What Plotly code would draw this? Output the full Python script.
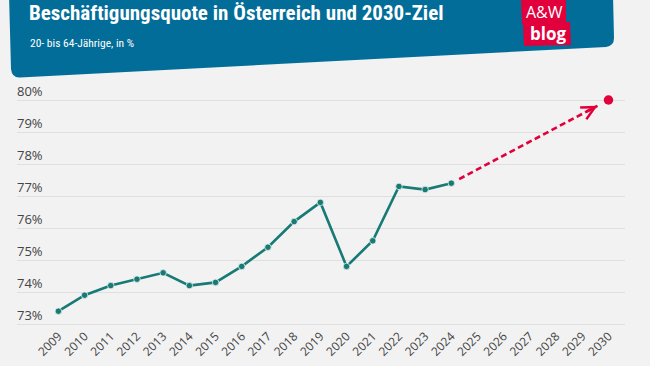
import plotly.graph_objects as go

# ---- data ----
years = [2009, 2010, 2011, 2012, 2013, 2014, 2015, 2016, 2017, 2018,
         2019, 2020, 2021, 2022, 2023, 2024]
quote = [73.4, 73.9, 74.2, 74.4, 74.6, 74.2, 74.3, 74.8, 75.4, 76.2,
         76.8, 74.8, 75.6, 77.3, 77.2, 77.4]
target_year = 2030
target_value = 80.0
axis_years = list(range(2009, 2031))
y_ticks = [73, 74, 75, 76, 77, 78, 79, 80]

title = "Beschäftigungsquote in Österreich und 2030-Ziel"
subtitle = "20- bis 64-Jährige, in %"

# ---- styling / layout geometry ----
W, H = 650, 366
ML, MR, MT, MB = 17, 25, 78, 36
PW, PH = W - ML - MR, H - MT - MB
BG = "#f2f2f2"
TEAL = "#177a74"
RED = "#e2003c"
BLUE = "#036d99"
PXU = 32.0  # pixels per percentage point
Y_BOTTOM = 73 - (H - MB - 324) / PXU
Y_TOP = Y_BOTTOM + PH / PXU


def px(x):
    return (x - ML) / PW


def py(y):
    return (H - MB - y) / PH


fig = go.Figure()

fig.add_trace(go.Scatter(
    x=years, y=quote, mode="lines+markers",
    line=dict(color=TEAL, width=2.6),
    marker=dict(color=TEAL, size=6.5, line=dict(color="#e8f0ef", width=0.8)),
    hoverinfo="x+y", showlegend=False,
))

# dashed projection from last value to target
x0, y0 = years[-1], quote[-1]
f0, f1 = 0.05, 0.93
sx, sy = x0 + f0 * (target_year - x0), y0 + f0 * (target_value - y0)
ex, ey = x0 + f1 * (target_year - x0), y0 + f1 * (target_value - y0)
fig.add_trace(go.Scatter(
    x=[sx, ex], y=[sy, ey], mode="lines",
    line=dict(color=RED, width=2.6, dash="6px,3.5px"),
    hoverinfo="skip", showlegend=False,
))
fig.add_annotation(
    x=ex, y=ey, xref="x", yref="y",
    ax=x0 + 0.85 * (target_year - x0), ay=y0 + 0.85 * (target_value - y0),
    axref="x", ayref="y", text="", showarrow=True,
    arrowhead=5, arrowsize=1.0, arrowwidth=2.6, arrowcolor=RED, standoff=0,
)

fig.add_trace(go.Scatter(
    x=[target_year], y=[target_value], mode="markers",
    marker=dict(color=RED, size=9.5),
    hoverinfo="x+y", showlegend=False,
))

# ---- header panel ----
panel = (f"M {px(9)},{py(-6)} L {px(11)},{py(69)} "
         f"Q {px(12)},{py(78)} {px(20)},{py(77.5)} "
         f"L {px(606)},{py(47)} Q {px(614)},{py(46)} {px(614)},{py(38)} "
         f"L {px(613)},{py(-6)} Z")
fig.add_shape(type="path", path=panel, xref="paper", yref="paper",
              fillcolor=BLUE, line=dict(width=0), layer="above")

# logo boxes
fig.add_shape(type="path", xref="paper", yref="paper", layer="above",
              path=(f"M {px(521)},{py(-2)} L {px(566)},{py(-3)} L {px(566)},{py(23)} "
                    f"L {px(522)},{py(24)} Z"),
              fillcolor=RED, line=dict(width=0))
fig.add_shape(type="path", xref="paper", yref="paper", layer="above",
              path=(f"M {px(523)},{py(23)} L {px(570)},{py(22)} L {px(571)},{py(45)} "
                    f"L {px(524)},{py(46)} Z"),
              fillcolor=RED, line=dict(width=0))
fig.add_annotation(x=px(544), y=py(12), xref="paper", yref="paper",
                   text="A&amp;W", showarrow=False, xanchor="center", yanchor="middle",
                   font=dict(family="Open Sans", size=16, color="white"))
fig.add_annotation(x=px(547.5), y=py(34), xref="paper", yref="paper",
                   text="<b>blog</b>", showarrow=False, xanchor="center", yanchor="middle",
                   font=dict(family="Open Sans", size=17, color="white"))

fig.add_annotation(x=px(27), y=py(13), xref="paper", yref="paper",
                   text="<b>" + title + "</b>", showarrow=False,
                   xanchor="left", yanchor="middle",
                   font=dict(family="Liberation Sans Narrow, Roboto Condensed, DejaVu Sans Condensed, Liberation Sans",
                             size=21, color="white"))
fig.add_annotation(x=px(28), y=py(43), xref="paper", yref="paper",
                   text=subtitle, showarrow=False,
                   xanchor="left", yanchor="middle",
                   font=dict(family="Liberation Sans Narrow, Roboto Condensed, DejaVu Sans Condensed, Liberation Sans",
                             size=11.5, color="white"))

fig.update_layout(
    width=W, height=H,
    margin=dict(l=ML, r=MR, t=MT, b=MB, autoexpand=False),
    paper_bgcolor=BG, plot_bgcolor=BG,
    font=dict(family="Open Sans", color="#444444"),
    xaxis=dict(
        range=[2007.42, 2030.63], tickmode="array",
        tickvals=axis_years, ticktext=[str(y) for y in axis_years],
        tickangle=-45, tickfont=dict(size=12, color="#444444"),
        ticklabelstandoff=-4,
        showgrid=False, zeroline=False, showline=False, ticks="",
        fixedrange=True, automargin=False,
    ),
    yaxis=dict(
        range=[Y_BOTTOM, Y_TOP], tickmode="array", tickvals=y_ticks,
        ticktext=[f"{v}%" for v in y_ticks],
        ticklabelposition="inside", ticklabelshift=-9, ticklabelstandoff=-3,
        tickfont=dict(size=13, color="#444444"),
        showgrid=True, gridcolor="#dfdfdf", gridwidth=1.2,
        zeroline=False, showline=False, ticks="", fixedrange=True,
        automargin=False,
    ),
)

fig.write_html("out.html", config={"displayModeBar": False},
               post_script="document.body.style.margin='0';document.body.style.overflow='hidden';")
